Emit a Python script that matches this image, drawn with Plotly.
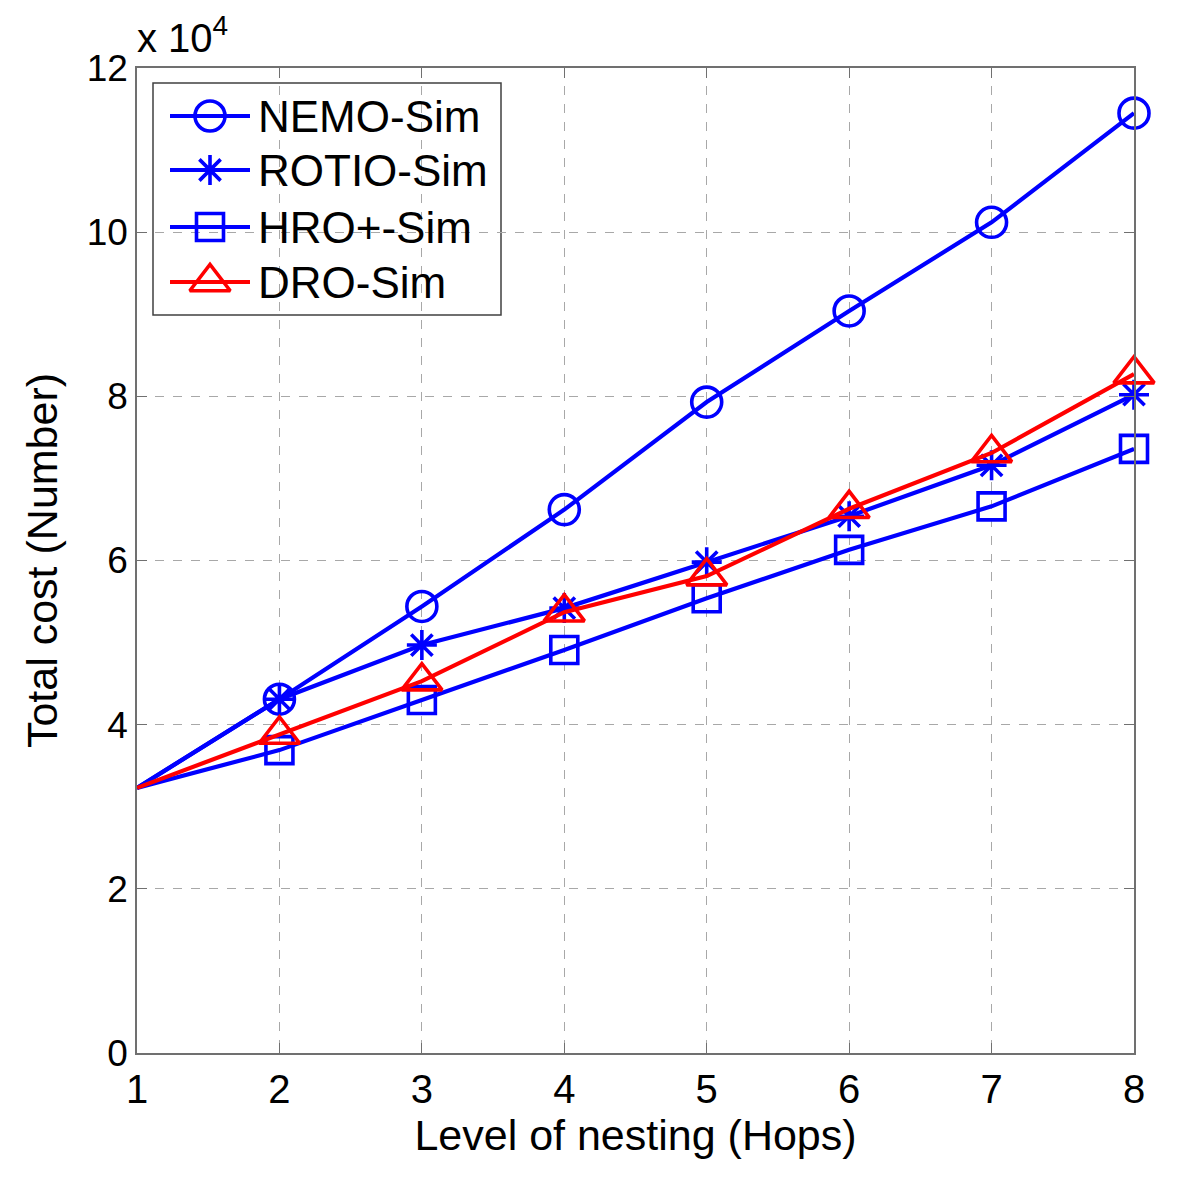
import plotly.graph_objects as go

hops = [1, 2, 3, 4, 5, 6, 7, 8]
nemo = [32300, 43100, 54400, 66200, 79300, 90400, 101200, 114500]
rotio = [32300, 43100, 49700, 54200, 59800, 65400, 71600, 80200]
hro = [32300, 36900, 43000, 49100, 55400, 61300, 66600, 73600]
dro = [32300, 38800, 45300, 53700, 58100, 66300, 73100, 82700]
names = ["NEMO-Sim", "ROTIO-Sim", "HRO+-Sim", "DRO-Sim"]
ytickvals = [0, 20000, 40000, 60000, 80000, 100000, 120000]
yticktext = ["0", "2", "4", "6", "8", "10", "12"]

BLUE = "#0000FF"
RED = "#FF0000"
series = [
    (nemo, BLUE, "circle-open", 30),
    (rotio, BLUE, "asterisk-open", 25),
    (hro, BLUE, "square-open", 27),
    (dro, RED, "triangle-up-open", 35),
]

# page has an 8px body margin; compensate so the plot lands where the reference has it
OFF = 8
W, H = 1200 - OFF, 1178 - OFF
L, R, T, B = 137 - OFF, 66, 68 - OFF, 125
PX0, PX1 = 137, 1134      # screen px of plot area (x)
PY0, PY1 = 68, 1053       # screen px of plot area (y)

fig = go.Figure()
for vals, col, sym, ms in series:
    fig.add_trace(go.Scatter(x=hops, y=vals, mode="lines",
                             line=dict(color=col, width=4.2), showlegend=False,
                             hoverinfo="skip"))
    fig.add_trace(go.Scatter(x=hops[1:], y=vals[1:], mode="markers",
                             marker=dict(symbol=sym, size=ms, color=col,
                                         line=dict(color=col, width=3.6)),
                             showlegend=False, cliponaxis=False))

# custom legend on a pixel-coordinate overlay axis
row_y = [116, 170, 227, 282]
for (vals, col, sym, ms), ry, nm in zip(series, row_y, names):
    fig.add_trace(go.Scatter(x=[170, 250], y=[ry, ry], mode="lines",
                             line=dict(color=col, width=4.2), xaxis="x2", yaxis="y2",
                             showlegend=False, hoverinfo="skip"))
    fig.add_trace(go.Scatter(x=[210], y=[ry], mode="markers",
                             marker=dict(symbol=sym, size=ms, color=col,
                                         line=dict(color=col, width=3.6)),
                             xaxis="x2", yaxis="y2", showlegend=False,
                             hoverinfo="skip", cliponaxis=False))
    fig.add_annotation(x=256, y=ry, xref="x2", yref="y2", text=nm,
                       showarrow=False, xanchor="left", yanchor="middle",
                       font=dict(family="Liberation Sans, Arial", size=44, color="black"))

fig.add_shape(type="rect", x0=153, x1=501, y0=83, y1=315, xref="x2", yref="y2",
              line=dict(color="#404040", width=1.5), fillcolor="white", layer="below")

fig.add_annotation(x=0, y=1, xref="paper", yref="paper", yshift=6, xshift=-2,
                   text="x 10<sup>4</sup>", showarrow=False,
                   xanchor="left", yanchor="bottom",
                   font=dict(family="Liberation Sans, Arial", size=40, color="black"))

axis_common = dict(showline=True, linecolor="#707070", linewidth=1.5, mirror="ticks",
                   ticks="inside", ticklen=10, tickcolor="#707070", tickwidth=1,
                   showgrid=True, gridcolor="#a8a8a8", gridwidth=1, griddash="9px,9px",
                   zeroline=False)

fig.update_layout(
    width=W, height=H,
    margin=dict(l=L, r=R, t=T, b=B),
    paper_bgcolor="white", plot_bgcolor="white",
    font=dict(family="Liberation Sans, Arial", color="black"),
    xaxis=dict(range=[1, 8], tickvals=hops,
               tickfont=dict(size=40, color="black"),
               title=dict(text="Level of nesting (Hops)",
                          font=dict(size=43, color="black"), standoff=0),
               **axis_common),
    yaxis=dict(range=[0, 120000], tickvals=ytickvals, ticktext=yticktext,
               tickfont=dict(size=37, color="black"),
               title=dict(text="Total cost (Number)",
                          font=dict(size=43, color="black"), standoff=16),
               **axis_common),
    xaxis2=dict(overlaying="x", range=[PX0, PX1], visible=False, showgrid=False),
    yaxis2=dict(overlaying="y", range=[PY1, PY0], visible=False, showgrid=False),
)

fig.write_html("out.html")
